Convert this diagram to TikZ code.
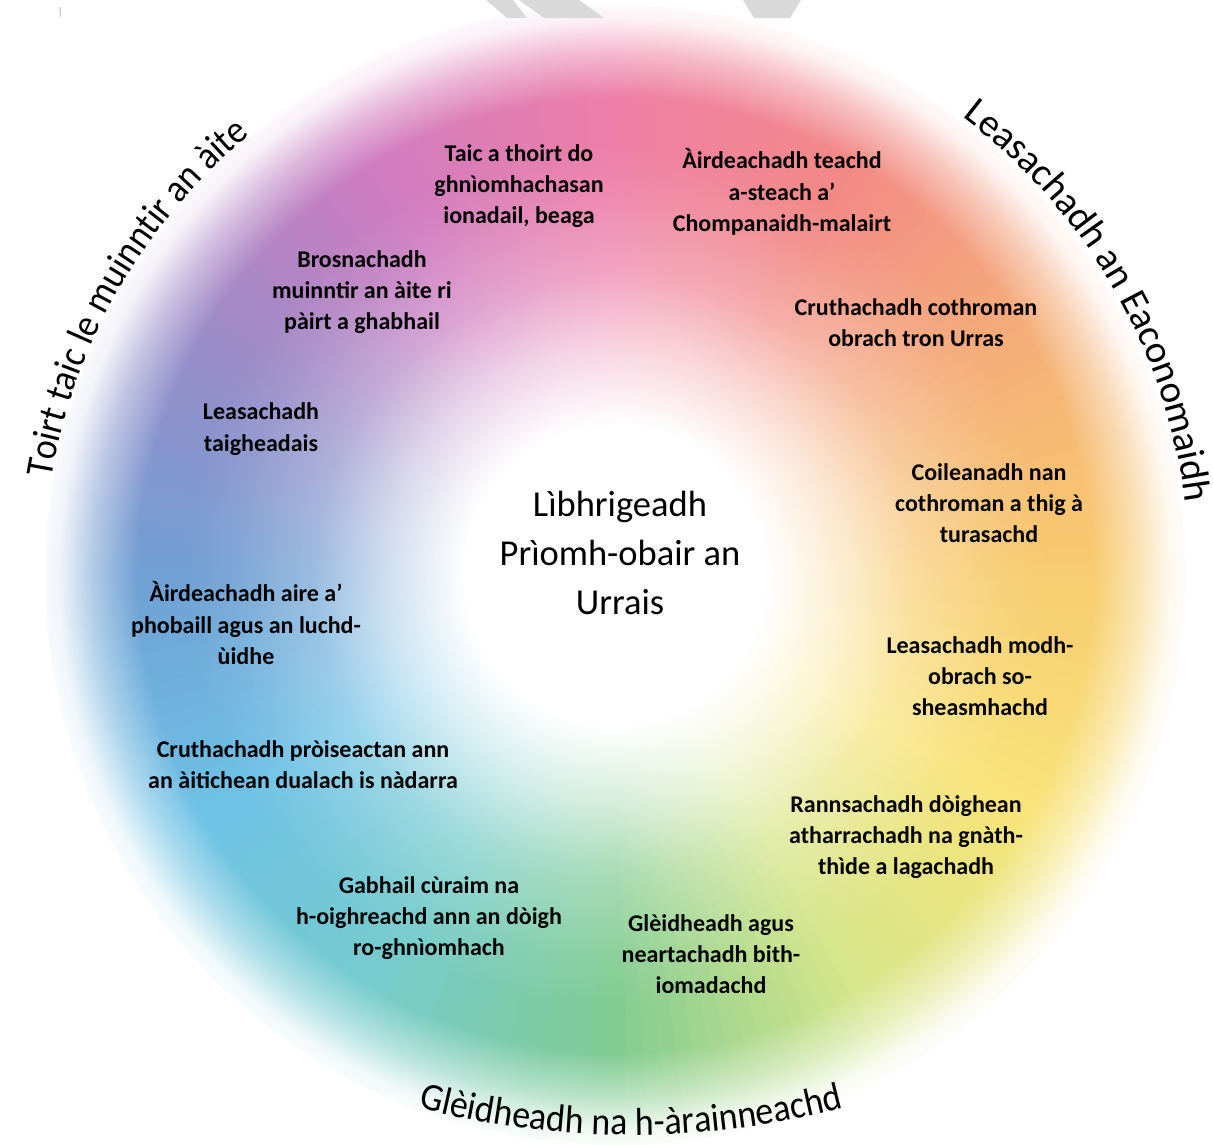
\documentclass[tikz,border=0pt]{standalone}
\usepackage{fontspec}
\setmainfont{Carlito}
\newfontfamily\arcfam[FakeStretch=0.92]{Carlito}
\newfontfamily\arcfamwide{Carlito}
\usetikzlibrary{fadings,decorations.text}
\pgfdeclareradialshading{ringshade}{\pgfpoint{0bp}{0bp}}{%
 color(0bp)=(white);
 color(6.5bp)=(white);
 color(9.9bp)=(black!35);
 color(12.9bp)=(black!70);
 color(16.4bp)=(black!92);
 color(18.5bp)=(black);
 color(20.5bp)=(black);
 color(22.4bp)=(black!55);
 color(23.9bp)=(black!10);
 color(25bp)=(white)}
\pgfdeclarefading{ringfade}{\pgfuseshading{ringshade}}
\definecolor{k0}{HTML}{EE7FA8}
\definecolor{k1}{HTML}{F28A86}
\definecolor{k2}{HTML}{F5AE78}
\definecolor{k3}{HTML}{F8CC70}
\definecolor{k4}{HTML}{F8E47A}
\definecolor{k5}{HTML}{D6E68A}
\definecolor{k6}{HTML}{82CC92}
\definecolor{k7}{HTML}{76CCCC}
\definecolor{k8}{HTML}{6EC2E6}
\definecolor{k9}{HTML}{70A0D4}
\definecolor{k10}{HTML}{9A8CC8}
\definecolor{k11}{HTML}{D07CC0}
\definecolor{k12}{HTML}{EE7FA8}
\definecolor{wmark}{HTML}{D9D9D9}
\newcommand\arcfont{\arcfam\fontsize{39}{42}\selectfont}
\newcommand\arcfontwide{\arcfamwide\fontsize{39}{42}\selectfont}
\begin{document}
\begin{tikzpicture}[x=1pt,y=1pt,
  lbl/.style={font=\bfseries\fontsize{24}{31.3}\selectfont, align=center, inner sep=0pt, text=black},
  hubtext/.style={font=\fontsize{36.5}{49}\selectfont, align=center, inner sep=0pt, text=black}]
\useasboundingbox (0,0) rectangle (1213,-1144);
\fill[white] (0,0) rectangle (1213,-1144);
\coordinate (C) at (615,-575);
\coordinate (Cb) at (631,-287);
% colour wheel
\foreach \a in {0,2,...,358}{
  \pgfmathtruncatemacro{\ii}{floor(\a/30)}
  \pgfmathtruncatemacro{\jj}{\ii+1}
  \pgfmathtruncatemacro{\pp}{(\a-30*\ii)*100/30}
  \colorlet{wc}{k\jj!\pp!k\ii}
  \fill[wc] (C) -- ++({90-\a+1.3}:570) arc ({90-\a+1.3}:{90-\a-1.3}:570) -- cycle;
}
\fill[white, path fading=ringfade, fit fading=true] (C) circle (580);
% watermark fragments
\fill[wmark] (486,0) -- (513,0) -- (527,-18) -- (507,-18) -- cycle;
\fill[wmark] (519,0) -- (579,0) -- (604,-18) -- (544,-18) -- cycle;
\fill[wmark] (743,0) -- (801,0) -- (790,-18) -- (754,-18) -- cycle;
\draw[gray!40, line width=1.2pt] (60,-7) -- (60.5,-17);
% curved headings
\path[decorate, decoration={text along path, text align=center,
  text={|\arcfont|Toirt taic le muinntir an àite}}]
  (C) ++(182:572) arc (182:118:572);
\path[decorate, decoration={text along path, text align=center,
  text={|\arcfontwide|Leasachadh an Eaconomaidh}}]
  (C) ++(66:575) arc (66:-6:575);
\path[decorate, decoration={text along path, text align=center,
  text={|\arcfont|Glèidheadh na h-àrainneachd}}]
  (Cb) ++(250:848) arc (250:290:848);
% centre
\node[hubtext] (hub) at (620,-553) {Lìbhrigeadh\\Prìomh-obair an\\Urrais};
% labels
\node[lbl] (l1) at (519,-186) {Taic a thoirt do\\ghnìomhachasan\\ionadail, beaga};
\node[lbl] (l2) at (782,-192) {Àirdeachadh teachd\\a-steach a’\\Chompanaidh-malairt};
\node[lbl] (l3) at (362,-292) {Brosnachadh\\muinntir an àite ri\\pàirt a ghabhail};
\node[lbl] (l4) at (916,-323) {Cruthachadh cothroman\\obrach tron Urras};
\node[lbl] (l5) at (261,-429) {Leasachadh\\taigheadais};
\node[lbl] (l6) at (989,-503) {Coileanadh nan\\cothroman a thig à\\turasachd};
\node[lbl] (l7) at (246,-623) {Àirdeachadh aire a’\\phobaill agus an luchd-\\ùidhe};
\node[lbl] (l8) at (980,-676) {Leasachadh modh-\\obrach so-\\sheasmhachd};
\node[lbl] (l9) at (303,-765) {Cruthachadh pròiseactan ann\\an àitichean dualach is nàdarra};
\node[lbl] (l10) at (906,-837) {Rannsachadh dòighean\\atharrachadh na gnàth-\\thìde a lagachadh};
\node[lbl] (l11) at (429,-918) {Gabhail cùraim na\\h-oighreachd ann an dòigh\\ro-ghnìomhach};
\begin{scope}
\clip (0,0) rectangle (1213,-992);
\node[lbl] (l12) at (711,-954) {Glèidheadh agus\\neartachadh bith-\\iomadachd};
\end{scope}
\end{tikzpicture}
\end{document}
